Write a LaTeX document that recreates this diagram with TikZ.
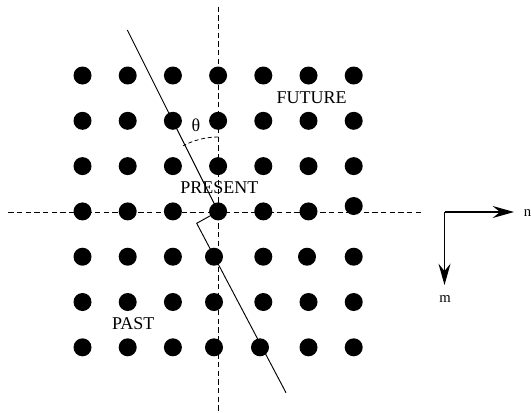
\documentclass[tikz,border=0pt]{standalone}
\usepackage{fontspec}
\setmainfont{Liberation Serif}
\usetikzlibrary{arrows.meta}

\begin{document}
\begin{tikzpicture}[x=0.75pt, y=-0.75pt,
		site/.style={circle, fill=black, inner sep=0pt, minimum size=13.5pt},
		axis/.style={dash pattern=on 4pt off 2.5pt, line width=0.6pt},
		word/.style={font=\fontsize{13.5}{16}\selectfont, inner sep=0pt},
		dir/.style={line width=1.3pt, -{Stealth[length=16pt, width=9pt, inset=5.5pt]}}]
		\useasboundingbox (0,0) rectangle (531,412);
		% lattice, row by row
		\node[site](d11) at (82.5,75.5) {}; \node[site](d12) at (127.7,75.5) {}; \node[site](d13) at (172.9,75.5) {}; \node[site](d14) at (218.1,75.5) {}; \node[site](d15) at (263.3,75.5) {}; \node[site](d16) at (308.5,75.5) {}; \node[site](d17) at (353.7,75.5) {};
		\node[site](d21) at (82.5,120.8) {}; \node[site](d22) at (127.7,120.8) {}; \node[site](d23) at (172.9,120.8) {}; \node[site](d24) at (218.1,120.8) {}; \node[site](d25) at (263.3,120.8) {}; \node[site](d26) at (308.5,120.8) {}; \node[site](d27) at (353.7,120.8) {};
		\node[site](d31) at (82.5,166.1) {}; \node[site](d32) at (127.7,166.1) {}; \node[site](d33) at (172.9,166.1) {}; \node[site](d34) at (218.1,166.1) {}; \node[site](d35) at (263.3,166.1) {}; \node[site](d36) at (308.5,166.1) {}; \node[site](d37) at (353.7,166.1) {};
		\node[site](d41) at (82.5,211.4) {}; \node[site](d42) at (127.7,211.4) {}; \node[site](d43) at (172.9,211.4) {}; \node[site](d44) at (218.1,211.4) {}; \node[site](d45) at (263.3,211.4) {}; \node[site](d46) at (308.5,211.4) {}; \node[site](d47) at (353.7,206) {};
		\node[site](d51) at (82.5,256.7) {}; \node[site](d52) at (127.7,256.7) {}; \node[site](d53) at (172.9,256.7) {}; \node[site](d54) at (214,256.7) {}; \node[site](d55) at (263.3,256.7) {}; \node[site](d56) at (307,256.7) {}; \node[site](d57) at (353.7,256.7) {};
		\node[site](d61) at (82.5,302) {}; \node[site](d62) at (127.7,302) {}; \node[site](d63) at (172.9,302) {}; \node[site](d64) at (214,302) {}; \node[site](d65) at (263.3,302) {}; \node[site](d66) at (308.5,302) {}; \node[site](d67) at (353.7,302) {};
		\node[site](d71) at (82.5,347.3) {}; \node[site](d72) at (127.7,347.3) {}; \node[site](d73) at (172.9,347.3) {}; \node[site](d74) at (214,347.3) {}; \node[site](d75) at (260,347.3) {}; \node[site](d76) at (308.5,347.3) {}; \node[site](d77) at (353.7,347.3) {};
		% axes through the present site
		\coordinate (west) at (8.3,212.5);
		\coordinate (east) at (421.7,212.5);
		\coordinate (north) at (218.3,6.7);
		\coordinate (south) at (218.3,412);
		\draw[axis] (west) -- (east);
		\draw[axis] (north) -- (south);
		% slice line with its step
		\coordinate (top) at (127.3,30);
		\coordinate (kink) at (196.7,223.3);
		\coordinate (bottom) at (286,392.7);
		\draw[line width=0.7pt] (top) -- (d44.center) -- (kink) -- (bottom);
		% angle
		\coordinate (ref) at (218.3,137);
		\draw[dash pattern=on 3pt off 2pt, line width=0.6pt] (ref) arc[start angle=-90, end angle=-118, radius=75];
		\node[word](theta) at (196,125) {θ};
		\node[word](future) at (311.5,97.5) {FUTURE};
		\node[word](present) at (219.3,187.7) {PRESENT};
		\node[word](past) at (133.3,323.5) {PAST};
		% index directions
		\coordinate (corner) at (444.5,212);
		\coordinate (nend) at (514,212);
		\coordinate (mend) at (444.5,285);
		\draw[dir] (corner) -- (nend);
		\draw[dir] (corner) -- (mend);
		\node[font=\fontsize{11}{13}\selectfont, inner sep=0pt, anchor=west](n) at (523.5,213) {n};
		\node[font=\fontsize{11}{13}\selectfont, inner sep=0pt](m) at (445,299) {m};
	\end{tikzpicture}
\end{document}
